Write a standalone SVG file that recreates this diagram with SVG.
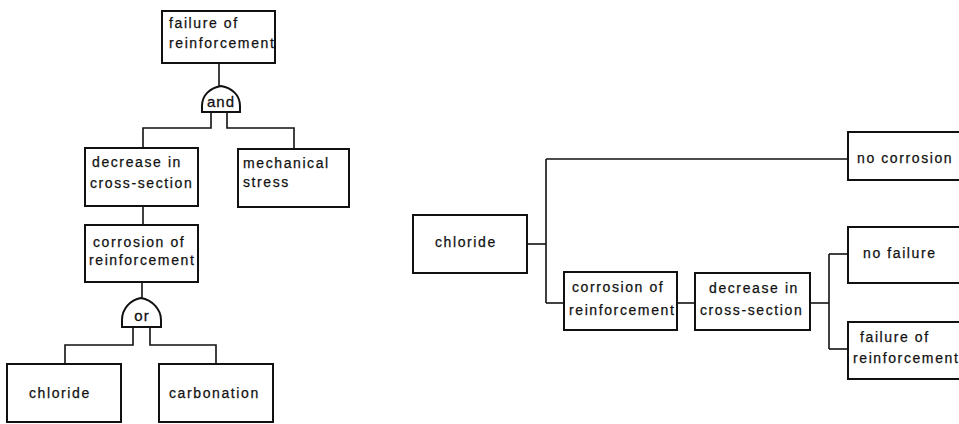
<svg xmlns="http://www.w3.org/2000/svg" width="959" height="424" viewBox="0 0 959 424">
<style>
  .box { fill: #fff; stroke: #111; stroke-width: 2; }
  .gate { fill: #fff; stroke: #111; stroke-width: 2; }
  .t { font-family: "Liberation Sans", Arial, sans-serif; font-size: 14px; letter-spacing: 1.6px; fill: #111; stroke: #111; stroke-width: 0.25; }
  .g { font-family: "Liberation Sans", Arial, sans-serif; font-size: 15px; letter-spacing: 1px; fill: #111; stroke: #111; stroke-width: 0.3; text-anchor: middle; }
  .c path { fill: none; stroke: #111; stroke-width: 1.6; }
</style>
<rect width="959" height="424" fill="#fff"/>
<g id="connectors" class="c">
  <path d="M219,63 V86"/>
  <path d="M211,112 V128 H143 V148"/>
  <path d="M227,112 V128 H294 V149"/>
  <path d="M143,206 V225"/>
  <path d="M142,282 V298"/>
  <path d="M133,327 V345 H65 V364"/>
  <path d="M150,327 V345 H216 V364"/>
  <path d="M527,244 H546"/>
  <path d="M546,159 V303"/>
  <path d="M546,159 H848"/>
  <path d="M546,303 H564"/>
  <path d="M677,303 H695"/>
  <path d="M810,303 H829"/>
  <path d="M829,254 V349"/>
  <path d="M829,254 H848"/>
  <path d="M829,349 H848"/>
</g>
<g id="l_failure">
  <rect class="box" x="162" y="11" width="113" height="52"/>
  <text class="t" x="169" y="28">failure of</text>
  <text class="t" x="169" y="48">reinforcement</text>
</g>
<g id="gate_and">
  <path class="gate" d="M202,112 L202,106 C202,95 210,88 221,86 C232,88 240,95 240,106 L240,112 Z"/>
  <text class="g" x="221" y="107">and</text>
</g>
<g id="l_decrease">
  <rect class="box" x="85" y="148" width="113" height="58"/>
  <text class="t" x="92" y="167">decrease in</text>
  <text class="t" x="90" y="188">cross-section</text>
</g>
<g id="l_mechanical">
  <rect class="box" x="238" y="149" width="111" height="58"/>
  <text class="t" x="243" y="168">mechanical</text>
  <text class="t" x="243" y="187">stress</text>
</g>
<g id="l_corrosion">
  <rect class="box" x="85" y="225" width="113" height="57"/>
  <text class="t" x="93" y="247">corrosion of</text>
  <text class="t" x="89" y="265">reinforcement</text>
</g>
<g id="gate_or">
  <path class="gate" d="M122,327 L122,320 C122,309 130,300 141,298 C152,300 161,309 161,320 L161,327 Z"/>
  <text class="g" x="142" y="321">or</text>
</g>
<g id="l_chloride">
  <rect class="box" x="7" y="364" width="114" height="58"/>
  <text class="t" x="29" y="398">chloride</text>
</g>
<g id="l_carbonation">
  <rect class="box" x="159" y="364" width="114" height="58"/>
  <text class="t" x="169" y="398">carbonation</text>
</g>
<g id="r_chloride">
  <rect class="box" x="413" y="215" width="114" height="58"/>
  <text class="t" x="435" y="247">chloride</text>
</g>
<g id="r_nocorrosion">
  <rect class="box" x="848" y="132" width="130" height="48"/>
  <text class="t" x="857" y="163">no corrosion</text>
</g>
<g id="r_corrosion">
  <rect class="box" x="564" y="272" width="113" height="58"/>
  <text class="t" x="572" y="292">corrosion of</text>
  <text class="t" x="569" y="315">reinforcement</text>
</g>
<g id="r_decrease">
  <rect class="box" x="695" y="273" width="115" height="57"/>
  <text class="t" x="709" y="293">decrease in</text>
  <text class="t" x="700" y="315">cross-section</text>
</g>
<g id="r_nofailure">
  <rect class="box" x="848" y="227" width="130" height="56"/>
  <text class="t" x="863" y="258">no failure</text>
</g>
<g id="r_failure">
  <rect class="box" x="848" y="322" width="130" height="57"/>
  <text class="t" x="860" y="342">failure of</text>
  <text class="t" x="853" y="363">reinforcement</text>
</g>
</svg>
